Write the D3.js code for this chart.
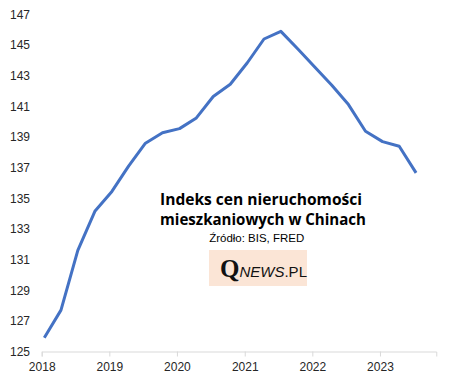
<!DOCTYPE html>
<html>
<head>
<meta charset="utf-8">
<script src="https://cdn.jsdelivr.net/npm/d3@7"></script>
<style>
  body { margin: 0; background: #fff; }
  svg { display: block; }
</style>
</head>
<body>
<div id="chart"></div>
<script>
// quarterly readings (dated mid first month of quarter)
var quarters = [
  "2018-01-15", "2018-04-15", "2018-07-15", "2018-10-15",
  "2019-01-15", "2019-04-15", "2019-07-15", "2019-10-15",
  "2020-01-15", "2020-04-15", "2020-07-15", "2020-10-15",
  "2021-01-15", "2021-04-15", "2021-07-15", "2021-10-15",
  "2022-01-15", "2022-04-15", "2022-07-15", "2022-10-15",
  "2023-01-15", "2023-04-15", "2023-07-15"
];
var values = [
  125.9, 127.7, 131.6, 134.15,
  135.45, 137.1, 138.6, 139.28,
  139.55, 140.25, 141.65, 142.45,
  143.85, 145.4, 145.9, 144.75,
  143.55, 142.4, 141.12, 139.38,
  138.7, 138.4, 136.66
];
var yTicks = [125, 127, 129, 131, 133, 135, 137, 139, 141, 143, 145, 147];
var xTickYears = [2018, 2019, 2020, 2021, 2022, 2023];

var titleLines = ["Indeks cen nieruchomości", "mieszkaniowych w Chinach"];
var sourceText = "Źródło: BIS, FRED";

var svgWidth = 452;
var svgHeight = 385;

var parseDate = d3.timeParse("%Y-%m-%d");
var data = quarters.map(function(q, i) {
  return { date: parseDate(q), value: values[i] };
});

var svg = d3.select("#chart")
  .append("svg")
  .attr("width", svgWidth)
  .attr("height", svgHeight);

// scales
var xStart = new Date(2018, 0, 1);
var xEnd = new Date(2023, 10, 1);
var yearPx = 67.66;
var xScale = d3.scaleTime()
  .domain([xStart, xEnd])
  .range([41.7, 41.7 + yearPx * ((xEnd - xStart) / (365.25 * 864e5))]);

var yScale = d3.scaleLinear()
  .domain([125, 147])
  .range([351.5, 14.5]);

// x axis
var bottomAxis = d3.axisBottom(xScale)
  .tickValues(xTickYears.map(function(y) { return new Date(y, 0, 1); }))
  .tickFormat(d3.timeFormat("%Y"))
  .tickSizeOuter(0)
  .tickSize(5)
  .tickPadding(6);

var xAxis = svg.append("g")
  .attr("transform", "translate(0," + yScale(125) + ")")
  .call(bottomAxis);

xAxis.select(".domain").attr("stroke", "#d9d9d9").attr("stroke-width", 1);
xAxis.selectAll(".tick line").attr("stroke", "#d9d9d9");
xAxis.selectAll(".tick text")
  .attr("fill", "#262626")
  .style("font-family", "'Liberation Sans', Arial, sans-serif")
  .style("font-size", "12px");

// y axis labels only
var leftAxis = d3.axisLeft(yScale)
  .tickValues(yTicks)
  .tickSize(0)
  .tickPadding(0);

var yAxis = svg.append("g")
  .attr("transform", "translate(30,0)")
  .call(leftAxis);

yAxis.select(".domain").remove();
yAxis.selectAll(".tick text")
  .attr("fill", "#262626")
  .style("font-family", "'Liberation Sans', Arial, sans-serif")
  .style("font-size", "12px");

// line
var line = d3.line()
  .x(function(d) { return xScale(d.date); })
  .y(function(d) { return yScale(d.value); });

svg.append("path")
  .datum(data)
  .attr("d", line)
  .attr("fill", "none")
  .attr("stroke", "#4472c4")
  .attr("stroke-width", 3)
  .attr("stroke-linejoin", "round");

// title block
var titleGroup = svg.append("g");

titleGroup.append("text")
  .attr("x", 261)
  .attr("y", 204.5)
  .attr("text-anchor", "middle")
  .attr("textLength", 202)
  .attr("lengthAdjust", "spacingAndGlyphs")
  .style("font-family", "'Open Sans', 'Liberation Sans', sans-serif")
  .style("font-weight", "bold")
  .style("font-size", "16.5px")
  .attr("fill", "#000")
  .text(titleLines[0]);

titleGroup.append("text")
  .attr("x", 263)
  .attr("y", 225)
  .attr("text-anchor", "middle")
  .attr("textLength", 206)
  .attr("lengthAdjust", "spacingAndGlyphs")
  .style("font-family", "'Open Sans', 'Liberation Sans', sans-serif")
  .style("font-weight", "bold")
  .style("font-size", "16.5px")
  .attr("fill", "#000")
  .text(titleLines[1]);

titleGroup.append("text")
  .attr("x", 256.7)
  .attr("y", 242)
  .attr("text-anchor", "middle")
  .attr("textLength", 95)
  .attr("lengthAdjust", "spacingAndGlyphs")
  .style("font-family", "'Liberation Sans', Arial, sans-serif")
  .style("font-size", "11.5px")
  .attr("fill", "#000")
  .text(sourceText);

// logo
svg.append("rect")
  .attr("x", 209)
  .attr("y", 250)
  .attr("width", 98)
  .attr("height", 36)
  .attr("fill", "#fbe5d6");

var logo = svg.append("text")
  .attr("x", 220)
  .attr("y", 277)
  .attr("fill", "#111");

logo.append("tspan")
  .style("font-family", "'Liberation Serif', 'DejaVu Serif', serif")
  .style("font-weight", "bold")
  .style("font-size", "25px")
  .text("Q");

logo.append("tspan")
  .style("font-family", "'Liberation Sans', Arial, sans-serif")
  .style("font-style", "italic")
  .style("font-size", "15px")
  .text("NEWS");

logo.append("tspan")
  .style("font-family", "'Liberation Sans', Arial, sans-serif")
  .style("font-size", "15px")
  .text(".PL");
</script>
</body>
</html>
